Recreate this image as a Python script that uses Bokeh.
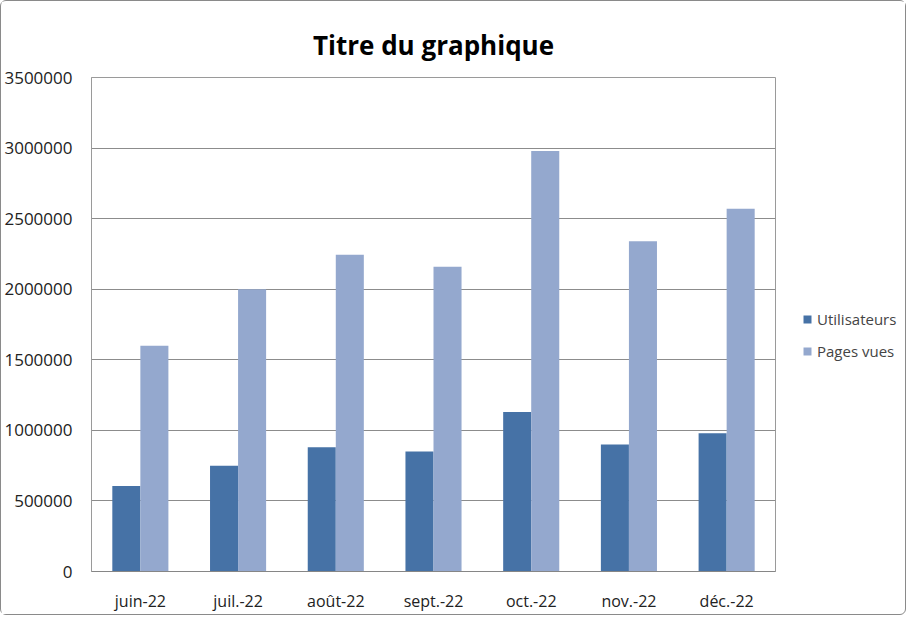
from bokeh.plotting import figure
from bokeh.layouts import row
from bokeh.models import Legend, LegendItem, ColumnDataSource, NumeralTickFormatter, FixedTicker
from bokeh.transform import dodge
from bokeh.embed import file_html
from bokeh.resources import INLINE

months = ["juin-22", "juil.-22", "août-22", "sept.-22", "oct.-22", "nov.-22", "déc.-22"]
utilisateurs = [605000, 750000, 880000, 850000, 1130000, 900000, 980000]
pages_vues = [1600000, 2000000, 2245000, 2160000, 2980000, 2340000, 2570000]
y_ticks = [0, 500000, 1000000, 1500000, 2000000, 2500000, 3000000, 3500000]
series_names = ["Utilisateurs", "Pages vues"]
series_colors = ["#4672A6", "#94A8CE"]

FONT = "Open Sans"

src = ColumnDataSource(dict(month=months, u=utilisateurs, pv=pages_vues))

p = figure(x_range=months, y_range=(0, 3500000), frame_width=684, frame_height=494,
           output_backend="svg", toolbar_location=None,
           min_border_left=90, min_border_right=1, min_border_top=76, min_border_bottom=36)
p.x_range.range_padding = 0

p.vbar(x=dodge("month", -0.1435, range=p.x_range), top="u", width=0.287, bottom=0,
       source=src, fill_color=series_colors[0], line_color=None)
p.vbar(x=dodge("month", 0.1435, range=p.x_range), top="pv", width=0.287, bottom=0,
       source=src, fill_color=series_colors[1], line_color=None)

p.title.text = "Titre du graphique"
p.title.text_font = FONT
p.title.text_font_style = "bold"
p.title.text_font_size = "26px"
p.title.align = "center"
p.title.text_color = "#000000"
p.title.standoff = 29

p.yaxis.ticker = FixedTicker(ticks=y_ticks)
p.yaxis.formatter = NumeralTickFormatter(format="0")
p.yaxis.major_tick_line_color = None
p.yaxis.minor_tick_line_color = None
p.yaxis.axis_line_color = "#9a9a9a"
p.yaxis.major_label_text_font = FONT
p.yaxis.major_label_text_font_size = "17px"
p.yaxis.major_label_text_color = "#222222"
p.yaxis.major_label_standoff = 13

p.xaxis.major_tick_line_color = None
p.xaxis.minor_tick_line_color = None
p.xaxis.axis_line_color = "#868686"
p.xaxis.major_label_text_font = FONT
p.xaxis.major_label_text_font_size = "16px"
p.xaxis.major_label_text_color = "#222222"
p.xaxis.major_label_standoff = 12

p.xgrid.grid_line_color = None
p.ygrid.grid_line_color = "#8c8c8c"
p.ygrid.grid_line_width = 1
p.outline_line_color = "#9a9a9a"
p.outline_line_width = 1

# legend panel (separate figure so the legend is not stretched)
lg = figure(width=129, height=606, x_range=(0, 1), y_range=(0, 1),
            output_backend="svg", toolbar_location=None,
            x_axis_location=None, y_axis_location=None,
            min_border_left=0, min_border_right=0, min_border_top=0, min_border_bottom=0)
lg.outline_line_color = None
lg.grid.grid_line_color = None
items = []
for name, col in zip(series_names, series_colors):
    # zero-size proxy glyph: only used to give the legend its swatch colour
    rr = lg.vbar(x=[0], top=[0], bottom=[0], width=0, fill_color=col, line_color=None)
    items.append(LegendItem(label=name, renderers=[rr]))

legend = Legend(items=items, location=(26, 203), border_line_color=None,
                background_fill_alpha=0, glyph_width=10, glyph_height=10,
                label_text_font=FONT, label_text_font_size="15px",
                spacing=12, padding=4, margin=0)
lg.add_layout(legend, "center")

page = row(p, lg, styles={"border": "1px solid #8a8a8a", "border-radius": "6px"})

open("out.html", "w").write(file_html(page, INLINE))
